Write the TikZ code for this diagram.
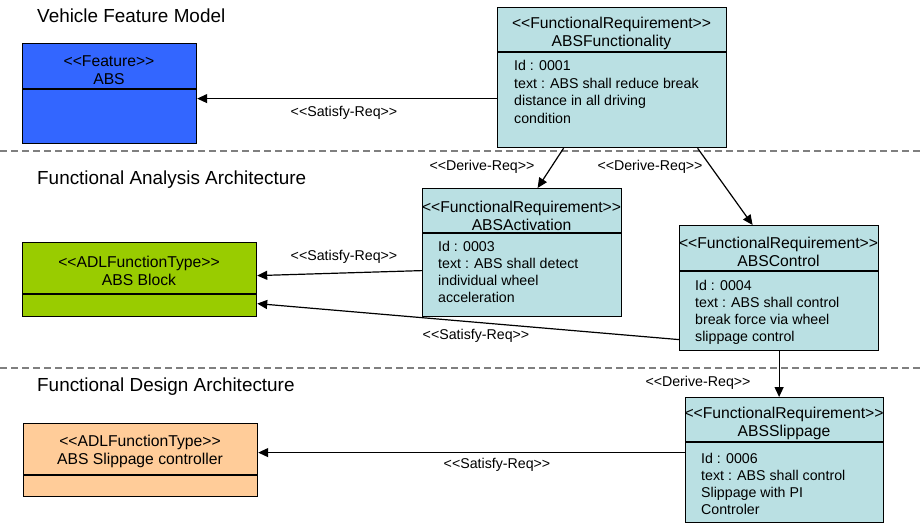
\documentclass[tikz,border=0pt]{standalone}
\usepackage{fontspec}
\setmainfont{Liberation Sans}[Ligatures=TeXOff]
\usetikzlibrary{arrows.meta}
\definecolor{featblue}{HTML}{3366FF}
\definecolor{adlgreen}{HTML}{99CC00}
\definecolor{adlorange}{HTML}{FFCC99}
\definecolor{reqblue}{HTML}{BAE0E3}
\definecolor{dashgray}{HTML}{7F7F7F}
\begin{document}
\begin{tikzpicture}[x=1pt,y=-1pt,
  umlbox/.style={draw=black, line width=1.2pt, inner sep=0pt, anchor=north west},
  divider/.style={draw=black, line width=1.1pt},
  hdr/.style={inner sep=0pt, align=center, font=\fontsize{15.7}{18}\selectfont},
  bodytxt/.style={inner sep=0pt, align=left, anchor=north west, font=\fontsize{14.2}{17.1}\selectfont},
  lbl/.style={inner sep=0pt, font=\fontsize{14.2}{16}\selectfont},
  title/.style={inner sep=0pt, anchor=west, font=\fontsize{18.9}{22}\selectfont},
  sep/.style={draw=dashgray, line width=1.3pt, dash pattern=on 7pt off 4pt},
  arr/.style={draw=black, line width=1.2pt, -{Triangle[length=10pt,width=9pt]}}
]
\useasboundingbox (0,0) rectangle (924,524);

% separators
\draw[sep] (0,151) -- (924,151);
\draw[sep] (0,368) -- (924,368);

% titles
\node[title] (t1) at (37,16) {Vehicle Feature Model};
\node[title] (t2) at (37,180) {Functional Analysis Architecture};
\node[title] (t3) at (37,387) {Functional Design Architecture};

% Feature ABS
\node[umlbox, fill=featblue, minimum width=174pt, minimum height=100pt] (abs) at (22,43) {};
\draw[divider] ([yshift=-46pt]abs.north west) -- ([yshift=-46pt]abs.north east);
\node[hdr] (absH) at (109,70) {<<Feature>>\\ABS};

% ABSFunctionality
\node[umlbox, fill=reqblue, minimum width=229pt, minimum height=140pt] (func) at (497,7) {};
\draw[divider] ([yshift=-45pt]func.north west) -- ([yshift=-45pt]func.north east);
\node[hdr] (funcH) at (611.5,33) {<<FunctionalRequirement>>\\ABSFunctionality};
\node[bodytxt, font=\fontsize{14.2}{17.7}\selectfont] (funcB) at (514,60) {Id : 0001\\text : ABS shall reduce break\\distance in all driving\\condition};

% ABSActivation
\node[umlbox, fill=reqblue, minimum width=199pt, minimum height=128pt] (act) at (422,188) {};
\draw[divider] ([yshift=-45pt]act.north west) -- ([yshift=-45pt]act.north east);
\node[hdr] (actH) at (521.5,216) {<<FunctionalRequirement>>\\ABSActivation};
\node[bodytxt] (actB) at (438,241) {Id : 0003\\text : ABS shall detect\\individual wheel\\acceleration};

% ABSControl
\node[umlbox, fill=reqblue, minimum width=199pt, minimum height=125pt] (ctrl) at (679,225) {};
\draw[divider] ([yshift=-46pt]ctrl.north west) -- ([yshift=-46pt]ctrl.north east);
\node[hdr] (ctrlH) at (778.5,252) {<<FunctionalRequirement>>\\ABSControl};
\node[bodytxt] (ctrlB) at (695,280) {Id : 0004\\text : ABS shall control\\break force via wheel\\slippage control};

% ABS Block
\node[umlbox, fill=adlgreen, minimum width=234pt, minimum height=74pt] (block) at (22,242) {};
\draw[divider] ([yshift=-52pt]block.north west) -- ([yshift=-52pt]block.north east);
\node[hdr] (blockH) at (139,271) {<<ADLFunctionType>>\\ABS Block};

% ABSSlippage
\node[umlbox, fill=reqblue, minimum width=198pt, minimum height=125pt] (slip) at (685,397) {};
\draw[divider] ([yshift=-45pt]slip.north west) -- ([yshift=-45pt]slip.north east);
\node[hdr] (slipH) at (784,423) {<<FunctionalRequirement>>\\ABSSlippage};
\node[bodytxt] (slipB) at (701,453) {Id : 0006\\text : ABS shall control\\Slippage with PI\\Controler};

% ABS Slippage controller
\node[umlbox, fill=adlorange, minimum width=234pt, minimum height=73pt] (slipc) at (23,423) {};
\draw[divider] ([yshift=-52pt]slipc.north west) -- ([yshift=-52pt]slipc.north east);
\node[hdr] (slipcH) at (140,451) {<<ADLFunctionType>>\\ABS Slippage controller};

% connectors
\draw[arr] ([yshift=-21pt]func.west) -- ([yshift=-5pt]abs.east);
\draw[arr] ([xshift=-48.5pt]func.south) -- ([xshift=15.5pt]act.north);
\draw[arr] ([xshift=85.5pt]func.south) -- ([xshift=-26.5pt]ctrl.north);
\draw[arr] ([yshift=-18pt]act.west) -- ([yshift=4pt]block.east);
\draw[arr] ([yshift=-51.5pt]ctrl.west) -- ([yshift=-24pt]block.east);
\draw[arr] (ctrl.south) -- (ctrl.south |- slip.north);
\draw[arr] ([yshift=7.5pt]slip.west) -- ([yshift=7.5pt]slipc.east);

% labels
\node[lbl] (l1) at (344,113) {<<Satisfy-Req>>};
\node[lbl] (l2) at (482,167) {<<Derive-Req>>};
\node[lbl] (l3) at (650,167) {<<Derive-Req>>};
\node[lbl] (l4) at (344,257) {<<Satisfy-Req>>};
\node[lbl] (l5) at (476,336) {<<Satisfy-Req>>};
\node[lbl] (l6) at (698,383) {<<Derive-Req>>};
\node[lbl] (l7) at (497,465) {<<Satisfy-Req>>};
\end{tikzpicture}
\end{document}
